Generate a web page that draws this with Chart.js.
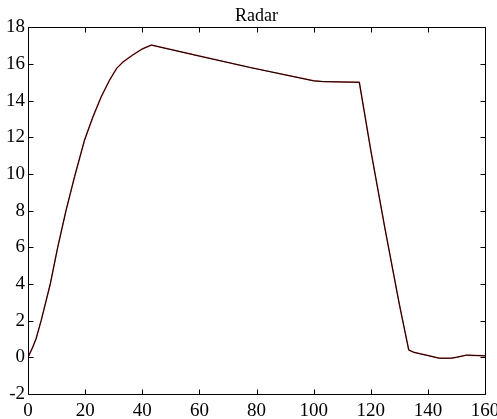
<!DOCTYPE html>
<html>
<head>
<meta charset="utf-8">
<script src="https://cdn.jsdelivr.net/npm/chart.js@4.4.1/dist/chart.umd.min.js"></script>
<style>
    body { margin: 0; background: #fff; }
</style>
</head>
<body>
<canvas id="chart" width="497" height="419"></canvas>
<script>
// values
const xValues = [0, 1.5, 2.8, 4.6, 7.8, 10.4, 13.3, 16.3, 19.8, 22.7, 25.6, 28.5, 31.0, 33.2, 36.7, 40, 43.2,
    60, 78, 100, 103, 110, 116, 120, 125, 130, 133.3, 135, 137.3, 140, 144, 148, 150, 153.5, 157, 160];
const radarValues = [0, 0.5, 1.0, 2.0, 4.0, 6.0, 8.0, 9.85, 11.85, 13.1, 14.2, 15.1, 15.75, 16.1, 16.49, 16.82, 17.03,
    16.43, 15.8, 15.08, 15.04, 15.02, 15.0, 11.3, 7.0, 2.9, 0.4, 0.28, 0.19, 0.1, -0.05, -0.05, 0.0, 0.12, 0.1, 0.08];
const xTicks = [0, 20, 40, 60, 80, 100, 120, 140, 160];
const yTicks = [-2, 0, 2, 4, 6, 8, 10, 12, 14, 16, 18];

const serif = "'Liberation Serif', 'Times New Roman', serif";

function makePoints() {
    return xValues.map((x, i) => ({ x: x, y: radarValues[i] }));
}

// matlab style box with inward ticks
const boxTicks = {
    id: "boxTicks",
    afterDatasetsDraw(chart) {
        const { ctx, chartArea: a, scales } = chart;
        const L = Math.round(a.left) + 0.5, R = Math.round(a.right) + 0.5;
        const T = Math.round(a.top) + 0.5, B = Math.round(a.bottom) + 0.5;
        ctx.save();
        ctx.strokeStyle = "#000";
        ctx.lineWidth = 1;
        ctx.beginPath();
        ctx.rect(L, T, R - L, B - T);
        xTicks.forEach(v => {
            const px = Math.round(scales.x.getPixelForValue(v)) + 0.5;
            ctx.moveTo(px, B); ctx.lineTo(px, B - 5);
            ctx.moveTo(px, T); ctx.lineTo(px, T + 5);
        });
        yTicks.forEach(v => {
            const py = Math.round(scales.y.getPixelForValue(v)) + 0.5;
            ctx.moveTo(L, py); ctx.lineTo(L + 5, py);
            ctx.moveTo(R, py); ctx.lineTo(R - 5, py);
        });
        ctx.stroke();
        ctx.restore();
    }
};

new Chart(document.getElementById("chart"), {
    type: "scatter",
    data: {
        datasets: [
            {
                // black on top
                data: makePoints(),
                showLine: true,
                borderColor: "#000",
                borderWidth: 1,
                pointRadius: 0,
                order: 0
            },
            {
                data: makePoints(),
                showLine: true,
                borderColor: "#e04848",
                borderWidth: 1.5,
                pointRadius: 0,
                order: 1
            }
        ]
    },
    options: {
        responsive: false,
        animation: false,
        layout: { padding: { left: 0, right: 12, top: 0, bottom: 0 } },
        plugins: {
            legend: { display: false },
            tooltip: { enabled: false },
            title: {
                display: true,
                text: "Radar",
                fullSize: false,
                color: "#000",
                font: { family: serif, size: 18, weight: "normal", lineHeight: 1.2 },
                padding: { top: 5, bottom: 0.7 }
            }
        },
        scales: {
            x: {
                type: "linear",
                min: 0,
                max: 160,
                grid: { display: false, drawTicks: false },
                border: { display: false },
                afterBuildTicks: s => { s.ticks = xTicks.map(v => ({ value: v })); },
                ticks: {
                    color: "#000",
                    padding: 6,
                    maxRotation: 0,
                    font: { family: serif, size: 19 }
                },
                afterFit: s => { s.height = 25; s.paddingLeft = 0; s.paddingRight = 0; }
            },
            y: {
                min: -2,
                max: 18,
                grid: { display: false, drawTicks: false },
                border: { display: false },
                afterBuildTicks: s => { s.ticks = yTicks.map(v => ({ value: v })); },
                ticks: {
                    color: "#000",
                    padding: 3,
                    font: { family: serif, size: 19 }
                },
                afterFit: s => { s.width = 28; s.paddingTop = 0; s.paddingBottom = 0; }
            }
        }
    },
    plugins: [boxTicks]
});
</script>
</body>
</html>
